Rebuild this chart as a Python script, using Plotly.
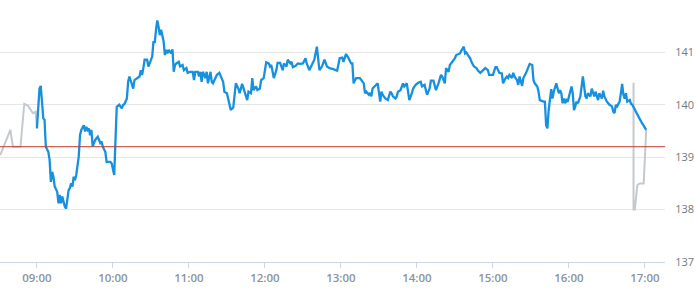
import plotly.graph_objects as go

DAY = "2024-03-15 "

pre_times = ["08:31", "08:39", "08:41", "08:47", "08:50", "08:53", "08:56", "08:57", "08:59", "09:00"]
pre_prices = [139.04, 139.52, 139.20, 139.20, 140.02, 139.98, 139.87, 139.84, 139.87, 139.55]

main_times = [
    "09:00", "09:01", "09:02", "09:03", "09:04", "09:05", "09:06", "09:07", "09:09", "09:10",
    "09:11", "09:12", "09:13", "09:14", "09:16", "09:17", "09:18", "09:19", "09:20", "09:21",
    "09:22", "09:23", "09:25", "09:26", "09:27", "09:28", "09:29", "09:30", "09:31", "09:33",
    "09:34", "09:35", "09:37", "09:38", "09:39", "09:40", "09:41", "09:42", "09:43", "09:44",
    "09:46", "09:48", "09:50", "09:51", "09:52", "09:54", "09:55", "09:58", "09:59", "10:01",
    "10:02", "10:03", "10:05", "10:07", "10:08", "10:09", "10:11", "10:12", "10:13", "10:15",
    "10:16", "10:17", "10:19", "10:21", "10:22", "10:23", "10:24", "10:25", "10:27", "10:28",
    "10:29", "10:31", "10:32", "10:33", "10:34", "10:35", "10:36", "10:37", "10:38", "10:40",
    "10:41", "10:42", "10:43", "10:44", "10:46", "10:47", "10:48", "10:49", "10:50", "10:52",
    "10:53", "10:55", "10:56", "10:58", "10:59", "11:01", "11:03", "11:04", "11:05", "11:07",
    "11:08", "11:09", "11:10", "11:11", "11:13", "11:14", "11:15", "11:17", "11:18", "11:19",
    "11:22", "11:24", "11:27", "11:28", "11:30", "11:31", "11:33", "11:35", "11:37", "11:39",
    "11:40", "11:42", "11:44", "11:46", "11:47", "11:49", "11:50", "11:51", "11:53", "11:54",
    "11:56", "11:57", "11:59", "12:01", "12:03", "12:04", "12:05", "12:07", "12:09", "12:10",
    "12:12", "12:14", "12:15", "12:17", "12:18", "12:20", "12:21", "12:22", "12:24", "12:26",
    "12:28", "12:30", "12:32", "12:33", "12:35", "12:37", "12:39", "12:41", "12:42", "12:43",
    "12:45", "12:47", "12:49", "12:51", "12:54", "12:57", "12:59", "13:01", "13:02", "13:04",
    "13:06", "13:08", "13:09", "13:10", "13:12", "13:15", "13:18", "13:19", "13:20", "13:22",
    "13:23", "13:24", "13:25", "13:28", "13:29", "13:31", "13:32", "13:33", "13:35", "13:37",
    "13:39", "13:40", "13:41", "13:43", "13:44", "13:45", "13:47", "13:49", "13:50", "13:52",
    "13:54", "13:56", "13:57", "13:59", "14:01", "14:03", "14:04", "14:06", "14:08", "14:10",
    "14:11", "14:13", "14:15", "14:17", "14:19", "14:20", "14:22", "14:23", "14:25", "14:26",
    "14:28", "14:30", "14:31", "14:34", "14:35", "14:37", "14:38", "14:39", "14:41", "14:42",
    "14:43", "14:45", "14:47", "14:48", "14:50", "14:52", "14:54", "14:56", "14:57", "15:00",
    "15:02", "15:03", "15:05", "15:07", "15:08", "15:10", "15:11", "15:12", "15:13", "15:15",
    "15:16", "15:17", "15:19", "15:20", "15:21", "15:23", "15:24", "15:26", "15:28", "15:29",
    "15:31", "15:32", "15:33", "15:35", "15:36", "15:37", "15:40", "15:41", "15:42", "15:43",
    "15:44", "15:46", "15:47", "15:48", "15:50", "15:51", "15:52", "15:53", "15:54", "15:55",
    "15:56", "15:57", "15:58", "15:59", "16:01", "16:02", "16:03", "16:04", "16:05", "16:06",
    "16:07", "16:09", "16:10", "16:11", "16:13", "16:14", "16:15", "16:17", "16:18", "16:19",
    "16:20", "16:21", "16:23", "16:24", "16:26", "16:27", "16:28", "16:30", "16:31", "16:32",
    "16:34", "16:35", "16:36", "16:37", "16:38", "16:40", "16:41", "16:42", "16:43", "16:44",
    "16:45", "16:46", "16:48", "16:49", "16:50", "16:52", "16:57", "17:01",
]
main_prices = [
    139.55, 139.85, 140.31, 140.36, 140.09, 139.74, 139.71, 139.20, 139.10, 138.95,
    138.53, 138.72, 138.63, 138.44, 138.34, 138.12, 138.28, 138.12, 138.25, 138.15,
    138.06, 138.02, 138.37, 138.41, 138.50, 138.44, 138.63, 138.56, 138.66, 139.01,
    139.42, 139.52, 139.61, 139.49, 139.58, 139.52, 139.55, 139.42, 139.52, 139.20,
    139.33, 139.39, 139.27, 139.30, 139.20, 139.10, 138.91, 138.91, 138.88, 138.66,
    139.20, 139.96, 140.00, 139.93, 140.00, 140.01, 140.12, 140.44, 140.54, 140.38,
    140.31, 140.47, 140.51, 140.54, 140.66, 140.57, 140.70, 140.86, 140.86, 140.73,
    140.79, 140.92, 141.21, 141.18, 141.43, 141.61, 141.49, 141.33, 141.43, 141.21,
    140.95, 141.05, 140.98, 141.05, 140.98, 141.06, 140.63, 140.76, 140.79, 140.82,
    140.73, 140.76, 140.66, 140.70, 140.61, 140.63, 140.63, 140.47, 140.63, 140.63,
    140.54, 140.63, 140.44, 140.63, 140.51, 140.63, 140.41, 140.63, 140.44, 140.41,
    140.57, 140.61, 140.44, 140.25, 140.22, 140.09, 139.90, 139.95, 140.41, 140.31,
    140.22, 140.40, 140.25, 140.09, 140.25, 140.22, 140.51, 140.28, 140.35, 140.28,
    140.31, 140.47, 140.51, 140.81, 140.79, 140.73, 140.76, 140.51, 140.66, 140.80,
    140.80, 140.66, 140.79, 140.73, 140.86, 140.79, 140.82, 140.72, 140.74, 140.79,
    140.78, 140.79, 140.89, 140.79, 140.66, 140.76, 140.86, 141.11, 140.89, 140.66,
    140.73, 140.86, 140.73, 140.70, 140.68, 140.65, 140.89, 140.90, 140.82, 140.97,
    140.89, 140.79, 140.79, 140.41, 140.51, 140.51, 140.41, 140.22, 140.25, 140.19,
    140.23, 140.16, 140.31, 140.38, 140.41, 140.06, 140.25, 140.19, 140.12, 140.09,
    140.25, 140.22, 140.16, 140.12, 140.16, 140.25, 140.28, 140.41, 140.35, 140.41,
    140.09, 140.22, 140.31, 140.38, 140.42, 140.44, 140.35, 140.38, 140.19, 140.31,
    140.46, 140.46, 140.28, 140.41, 140.57, 140.54, 140.41, 140.70, 140.63, 140.76,
    140.82, 140.89, 140.95, 140.98, 141.03, 141.11, 140.98, 141.00, 140.92, 140.89,
    140.82, 140.73, 140.70, 140.66, 140.61, 140.65, 140.70, 140.66, 140.57, 140.57,
    140.72, 140.72, 140.61, 140.60, 140.41, 140.51, 140.54, 140.51, 140.57, 140.51,
    140.61, 140.54, 140.47, 140.38, 140.54, 140.36, 140.51, 140.60, 140.72, 140.78,
    140.76, 140.47, 140.41, 140.35, 140.25, 140.09, 140.06, 140.06, 139.61, 139.55,
    139.90, 140.30, 140.12, 140.25, 140.41, 140.31, 140.22, 140.28, 140.22, 140.03,
    140.12, 140.03, 140.09, 140.06, 140.28, 140.35, 140.22, 139.90, 139.97, 140.06,
    140.03, 140.16, 140.35, 140.54, 140.16, 140.12, 140.22, 140.16, 140.31, 140.22,
    140.16, 140.25, 140.09, 140.22, 140.12, 140.27, 140.16, 140.06, 140.03, 140.00,
    139.97, 139.87, 139.84, 140.00, 139.97, 140.06, 140.22, 140.40, 140.19, 140.12,
    140.22, 140.06, 140.09, 140.02, 140.00, 139.90, 139.68, 139.52,
]

post_times = ["16:51", "16:51", "16:52", "16:54", "16:56", "16:59", "17:01"]
post_prices = [140.42, 138.00, 138.00, 138.47, 138.50, 138.50, 139.52]

prev_close = 139.2

x_range = ["08:30:50", "17:15:50"]
x_ticks = ["09:00", "10:00", "11:00", "12:00", "13:00", "14:00", "15:00", "16:00", "17:00"]
y_ticks = [137, 138, 139, 140, 141]
y_range = [137, 142]

fig = go.Figure()
fig.add_trace(go.Scatter(x=[DAY + t for t in pre_times], y=pre_prices, mode="lines",
                         line=dict(color="#c3c9cf", width=2), hoverinfo="skip"))
fig.add_trace(go.Scatter(x=[DAY + t for t in post_times], y=post_prices, mode="lines",
                         line=dict(color="#c3c9cf", width=2), hoverinfo="skip"))
fig.add_trace(go.Scatter(x=[DAY + t for t in main_times], y=main_prices, mode="lines",
                         line=dict(color="#1790e0", width=2.3), hoverinfo="skip"))
fig.add_hline(y=prev_close, line=dict(color="#c0392b", width=1))

fig.update_layout(
    width=695, height=300,
    margin=dict(l=0, r=30, t=0, b=38),
    paper_bgcolor="white", plot_bgcolor="white",
    showlegend=False,
    font=dict(family="Open Sans", size=11, color="#8a939e"),
)
fig.update_xaxes(
    type="date",
    range=[DAY + x_range[0], DAY + x_range[1]],
    tickvals=[DAY + t for t in x_ticks], ticktext=x_ticks,
    showgrid=False, showline=True, linecolor="#ccd6eb", linewidth=1,
    ticks="outside", ticklen=5, tickcolor="#ccd6eb",
    tickfont=dict(family="Open Sans", size=11.5, color="#8a939e", weight=600),
    zeroline=False, automargin=False,
)
fig.update_yaxes(
    range=y_range, tickvals=y_ticks, side="right",
    showgrid=True, gridcolor="#e6e6e6", gridwidth=1,
    showline=False, zeroline=False,
    ticks="outside", ticklen=7, tickcolor="rgba(0,0,0,0)",
    tickfont=dict(family="Open Sans", size=11, color="#707a84"),
    automargin=False,
)
fig.write_html("out.html")
